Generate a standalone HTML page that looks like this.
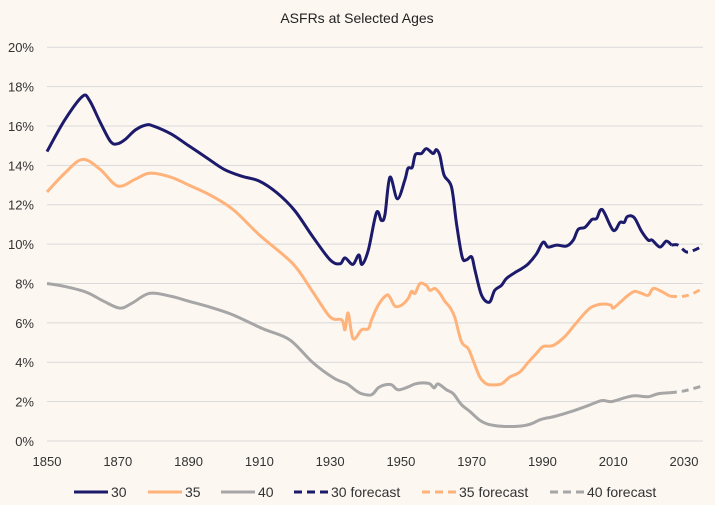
<!DOCTYPE html>
<html><head><meta charset="utf-8"><style>
body{margin:0;background:#fdf7f2;}
svg{display:block;font-family:"Liberation Sans",sans-serif;}
</style></head><body>
<svg id="chart" width="715" height="505">
<rect width="715" height="505" fill="#fdf7f2"/>
<text x="357" y="23" text-anchor="middle" font-size="14" fill="#222">ASFRs at Selected Ages</text>
<g id="grid"></g><g id="series"></g><g id="legend"></g>
</svg>
<script>
const yTicks=[0,2,4,6,8,10,12,14,16,18,20];
const xTicks=[1850,1870,1890,1910,1930,1950,1970,1990,2010,2030];
const years30=[1850,1855,1860,1862,1865,1868,1870,1872,1875,1878,1880,1885,1890,1895,1900,1905,1910,1915,1920,1925,1930,1932.8,1934.2,1936.4,1938.1,1939,1940.8,1943.1,1944.5,1945.5,1946.9,1949,1951.1,1952,1953.2,1954.1,1955.8,1957.2,1959.1,1960,1961,1962.2,1964.3,1965.7,1967.3,1968.5,1970,1970.9,1972.8,1975,1976.5,1978.4,1979.8,1982.2,1984.1,1986,1988.3,1990.2,1991.6,1994,1996.8,1998.7,2000.1,2002,2004,2005.3,2006.9,2010,2011.9,2013.1,2014,2015.9,2018,2019.9,2021,2023.2,2025,2026.5];
const vals30=[14.7,16.3,17.5,17.3,16.2,15.2,15.1,15.3,15.8,16.05,16.0,15.6,15.0,14.4,13.8,13.45,13.2,12.6,11.7,10.4,9.2,9.0,9.3,8.97,9.45,8.97,9.7,11.6,11.2,11.5,13.4,12.3,13.25,13.85,13.9,14.55,14.6,14.85,14.6,14.8,14.5,13.5,12.9,11.05,9.35,9.2,9.35,8.7,7.4,7.05,7.65,7.9,8.25,8.55,8.75,9.0,9.5,10.1,9.85,9.95,9.9,10.2,10.75,10.85,11.25,11.3,11.75,10.7,11.1,11.1,11.4,11.35,10.65,10.2,10.2,9.85,10.15,9.95];
const yearsF30=[2026.5,2028.3,2030.7,2033,2035.2];
const valsF30=[9.95,9.95,9.6,9.7,9.9];
const years35=[1850,1855,1860,1865,1870,1875,1879,1885,1890,1896,1902.6,1910.1,1919.5,1925,1930,1933.3,1934.2,1935.1,1936.5,1938.9,1940.8,1941.7,1943.6,1945.9,1946.9,1948.3,1950.2,1952.1,1953,1954,1955.4,1957.2,1958.2,1959.6,1961,1962.4,1963.8,1965.2,1967.1,1969,1970.4,1972.3,1974.2,1976.1,1978.4,1980.8,1983.6,1986,1988.3,1990.2,1993,1996.3,1999.1,2002,2003.9,2006.7,2009.3,2010,2012.3,2014.2,2016.1,2018,2019.9,2021.3,2023.6,2026];
const vals35=[12.65,13.6,14.3,13.8,12.95,13.3,13.6,13.4,13.0,12.5,11.75,10.45,9.0,7.6,6.3,6.15,5.65,6.5,5.2,5.65,5.7,6.15,6.9,7.4,7.3,6.85,6.9,7.25,7.6,7.5,8.0,7.9,7.65,7.75,7.5,7.1,6.8,6.3,5.05,4.7,4.1,3.25,2.9,2.85,2.9,3.25,3.5,4.0,4.45,4.8,4.85,5.3,5.9,6.5,6.8,6.95,6.9,6.75,7.1,7.4,7.6,7.5,7.4,7.75,7.6,7.35];
const yearsF35=[2026,2029.8,2032.6,2035.2];
const valsF35=[7.35,7.35,7.5,7.75];
const years40=[1850,1855,1861.2,1866,1870.6,1874,1879,1885,1890,1896,1902.6,1911,1918.5,1925,1931,1934.8,1937,1938.9,1941.7,1943.6,1945.5,1947.4,1949.2,1952.1,1954,1956.3,1958.2,1959.4,1960.5,1962.9,1964.8,1967.1,1969.5,1972.3,1974.7,1978.4,1983.1,1986.4,1989.7,1993.5,1998.2,2002.9,2006.7,2009.5,2013.3,2016.1,2019.9,2022.7,2026];
const vals40=[8.0,7.85,7.55,7.1,6.75,7.0,7.5,7.35,7.1,6.8,6.4,5.7,5.15,4.0,3.2,2.9,2.6,2.4,2.35,2.7,2.85,2.85,2.6,2.75,2.9,2.95,2.9,2.7,2.9,2.6,2.4,1.85,1.5,1.05,0.85,0.75,0.75,0.85,1.1,1.25,1.5,1.8,2.05,2.0,2.2,2.3,2.25,2.4,2.45];
const yearsF40=[2026,2030.2,2035.2];
const valsF40=[2.45,2.55,2.8];

const NS='http://www.w3.org/2000/svg';
const X=y=>47+(y-1850)*3.539;
const Y=v=>441-v*19.69;
function mk(tag,attrs,parent){const e=document.createElementNS(NS,tag);for(const k in attrs)e.setAttribute(k,attrs[k]);parent.appendChild(e);return e;}
const grid=document.getElementById('grid');
yTicks.forEach(t=>{
  const l=mk('line',{x1:47,x2:703,y1:Y(t),y2:Y(t),stroke:'#d9d9d9','stroke-width':1},grid);
  
  
  const tx=mk('text',{x:34,y:Y(t)+5,'text-anchor':'end','font-size':13,fill:'#333'},grid);
  tx.textContent=t+'%';
  
  
});
xTicks.forEach(t=>{
  const tx=mk('text',{x:X(t),y:466,'text-anchor':'middle','font-size':13,fill:'#333'},grid);
  tx.textContent=t;
  
  
});
function pathD(xs,vs){
  const p=xs.map((x,i)=>[X(x),Y(vs[i])]);
  let d='M'+p[0][0]+','+p[0][1];
  for(let i=0;i<p.length-1;i++){
    const p0=p[i-1]||p[i],p1=p[i],p2=p[i+1],p3=p[i+2]||p2;
    const c1=[p1[0]+(p2[0]-p0[0])/6,p1[1]+(p2[1]-p0[1])/6];
    const c2=[p2[0]-(p3[0]-p1[0])/6,p2[1]-(p3[1]-p1[1])/6];
    d+='C'+c1+' '+c2+' '+p2;
  }
  return d;
}
const sg=document.getElementById('series');
const defs=[
 [years40,vals40,'#a6a6a6',null,'series-40'],
 [years35,vals35,'#ffb27a',null,'series-35'],
 [years30,vals30,'#1c1a6b',null,'series-30'],
 [yearsF40,valsF40,'#a6a6a6','7,5','series-40-forecast'],
 [yearsF35,valsF35,'#ffb27a','7,5','series-35-forecast'],
 [yearsF30,valsF30,'#1c1a6b','7,5','series-30-forecast']];
defs.forEach(s=>{
  const a={d:pathD(s[0],s[1]),fill:'none',stroke:s[2],'stroke-width':3,'stroke-linejoin':'round'};
  if(s[3])a['stroke-dasharray']=s[3];
  const p=mk('path',a,sg);
  
  
});
const lg=document.getElementById('legend');
const items=[['30','#1c1a6b',null,74],['35','#ffb27a',null,148],['40','#a6a6a6',null,221],['30 forecast','#1c1a6b','8,5',294],['35 forecast','#ffb27a','8,5',422],['40 forecast','#a6a6a6','8,5',550]];
items.forEach(it=>{
  const g=mk('g',{},lg);
  
  
  const a={x1:it[3],x2:it[3]+34,y1:492,y2:492,stroke:it[1],'stroke-width':3};
  if(it[2])a['stroke-dasharray']=it[2];
  mk('line',a,g);
  const t=mk('text',{x:it[3]+37,y:497,'font-size':14,fill:'#333'},g);
  t.textContent=it[0];
});
</script>
</body></html>
